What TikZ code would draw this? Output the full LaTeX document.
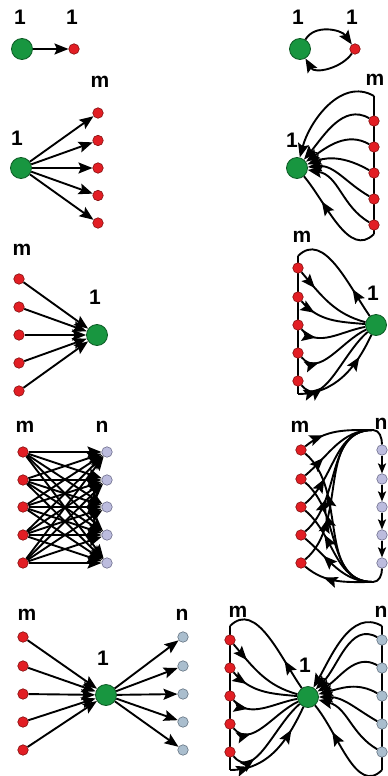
\documentclass[tikz,border=0pt]{standalone}
\usepackage{fontspec}
\setmainfont{Liberation Sans}
\usetikzlibrary{arrows.meta,decorations.markings}

\definecolor{grnfill}{RGB}{24,150,64}
\definecolor{grnline}{RGB}{12,90,36}
\definecolor{redfill}{RGB}{226,30,36}
\definecolor{redline}{RGB}{130,15,15}
\definecolor{lavfill}{RGB}{188,188,222}
\definecolor{lavline}{RGB}{110,110,140}
\definecolor{bluefill}{RGB}{170,190,206}
\definecolor{blueline}{RGB}{100,115,130}

\begin{document}
\begin{tikzpicture}[x=1pt,y=1pt,
  lbl/.style={font=\bfseries\fontsize{21}{21}\selectfont,inner sep=0pt},
  big/.style={circle,draw=grnline,fill=grnfill,line width=0.8pt,minimum size=21pt,inner sep=0pt},
  rdot/.style={circle,draw=redline,fill=redfill,line width=0.6pt,minimum size=10.5pt,inner sep=0pt},
  ldot/.style={rdot,draw=lavline,fill=lavfill},
  bdot/.style={rdot,draw=blueline,fill=bluefill},
  ln/.style={line width=1.9pt},
  arr/.style={ln,-{Stealth[length=14pt,width=11pt,inset=2.5pt]}},
  sarr/.style={ln,-{Stealth[length=10pt,width=8pt,inset=2pt]}},
  marr/.style={ln,postaction={decorate,decoration={markings,
    mark=at position #1 with {\arrow{Stealth[length=14pt,width=11pt,inset=2.5pt]}}}}},
]
\useasboundingbox (0,0) rectangle (388,-776);

\node[lbl] (oA1) at (20,-17) {1};
\node[lbl] (oA2) at (72,-17) {1};
\node[big] (gA) at (22,-49) {};
\node[rdot] (rA) at (74,-49) {};
\draw[arr] (gA) -- (rA);

\node[lbl] (oB1) at (298,-17) {1};
\node[lbl] (oB2) at (352,-17) {1};
\node[big] (gB) at (300,-49) {};
\node[rdot] (rB) at (355,-49) {};
\draw[arr] (gB) to[out=60,in=125] (rB);
\draw[arr] (rB) to[out=-125,in=-60] (gB);

\node[lbl] (oC) at (17,-138) {1};
\node[lbl] (mC) at (100,-82) {m};
\node[big] (gC) at (21,-168) {};
\foreach \i/\y in {1/113,2/140.5,3/168,4/195.5,5/223}{
  \node[rdot] (rC\i) at (98,-\y) {};
  \draw[arr] (gC) -- (rC\i);
}

\coordinate (topD) at (374,-96);
\coordinate (botD) at (374,-234);
\draw[ln] (topD) -- (botD);
\node[lbl] (oD) at (292,-140) {1};
\node[lbl] (mD) at (375,-80) {m};
\node[big] (gD) at (297,-168) {};
\draw[arr] (topD) to[out=150,in=75] (gD);
\foreach \i/\y/\a in {1/121/50,2/147/35,3/173/20,4/199/5,5/225/-10}{
  \node[rdot] (rD\i) at (374,-\y) {};
  \draw[arr] (rD\i) to[out=150,in=\a] (gD);
}
\draw[marr=0.7] (botD) to[out=-135,in=-50] (gD);

\node[lbl] (mE) at (22,-250) {m};
\node[lbl] (oE) at (95,-297) {1};
\node[big] (gE) at (97,-335) {};
\foreach \i/\y in {1/279,2/307,3/335,4/363,5/391}{
  \node[rdot] (rE\i) at (19,-\y) {};
  \draw[arr] (rE\i) -- (gE);
}

\coordinate (topF) at (298,-256);
\coordinate (botF) at (298,-394);
\draw[ln] (topF) -- (botF);
\node[lbl] (mF) at (302,-237) {m};
\node[lbl] (oF) at (373,-293) {1};
\node[big] (gF) at (376,-325) {};
\draw[marr=0.3] (gF) to[out=125,in=45] (topF);
\foreach \i/\y/\a in {1/268/165,2/297/175,3/325/-170,4/353/-155,5/381/-140}{
  \node[rdot] (rF\i) at (298,-\y) {};
  \draw[marr=0.25] (rF\i) to[out=-50,in=\a] (gF);
}
\draw[marr=0.2,marr=0.75] (botF) to[out=0,in=-115] (gF);

\node[lbl] (mG) at (25,-427) {m};
\node[lbl] (nG) at (102,-427) {n};
\foreach \i/\y in {1/452,2/480,3/507,4/535,5/563}{
  \node[rdot] (rG\i) at (23,-\y) {};
  \node[ldot] (nG\i) at (107,-\y) {};
}
\foreach \i in {1,...,5}
  \foreach \j in {1,...,5}
    \draw[arr] (rG\i) -- (nG\j);

\coordinate (topH) at (373,-430);
\coordinate (botH) at (373,-582);
\node[lbl] (mH) at (300,-427) {m};
\node[lbl] (nH) at (381,-424) {n};
\foreach \i/\y in {1/450,2/479,3/507,4/535,5/563}{
  \node[rdot] (rH\i) at (301,-\y) {};
  \node[ldot] (nH\i) at (382,-\y) {};
}
\draw[ln] (topH) to[out=0,in=90] (nH1);
\foreach \i/\j in {1/2,2/3,3/4,4/5}
  \draw[sarr] (nH\i) -- (nH\j);
\draw[ln] (nH5) to[out=-90,in=0] (botH);
\foreach \i in {1,...,5}{
  \draw[marr=0.3] (rH\i) to[out=40,in=180] (topH);
  \draw[marr=0.7] (botH) to[out=180,in=-40] (rH\i);
}

\node[lbl] (mI) at (27,-615) {m};
\node[lbl] (nI) at (182,-615) {n};
\node[lbl] (oI) at (103,-658) {1};
\node[big] (gI) at (106,-695) {};
\foreach \i/\y in {1/637,2/666,3/694,4/722,5/750}{
  \node[rdot] (rI\i) at (23,-\y) {};
  \node[bdot] (bI\i) at (183,-\y) {};
  \draw[arr] (rI\i) -- (gI);
  \draw[arr] (gI) -- (bI\i);
}

\coordinate (topJL) at (230,-626);
\coordinate (botJL) at (230,-770);
\coordinate (topJR) at (382,-626);
\coordinate (botJR) at (382,-770);
\draw[ln] (topJL) -- (botJL);
\draw[ln] (topJR) -- (botJR);
\node[lbl] (mJ) at (238,-612) {m};
\node[lbl] (nJ) at (381,-612) {n};
\node[lbl] (oJ) at (305,-665) {1};
\node[big] (gJ) at (308,-697) {};
\draw[marr=0.3] (gJ) to[out=125,in=45] (topJL);
\draw[arr] (topJR) to[out=150,in=60] (gJ);
\foreach \i/\y/\a/\b in {1/640/165/45,2/668/175/30,3/696/-170/15,4/724/-155/0,5/752/-140/-15}{
  \node[rdot] (rJ\i) at (230,-\y) {};
  \node[bdot] (bJ\i) at (382,-\y) {};
  \draw[marr=0.25] (rJ\i) to[out=-50,in=\a] (gJ);
  \draw[arr] (bJ\i) to[out=150,in=\b] (gJ);
}
\draw[marr=0.2,marr=0.75] (botJL) to[out=0,in=-115] (gJ);
\draw[marr=0.7] (botJR) to[out=-135,in=-50] (gJ);
\end{tikzpicture}
\end{document}
